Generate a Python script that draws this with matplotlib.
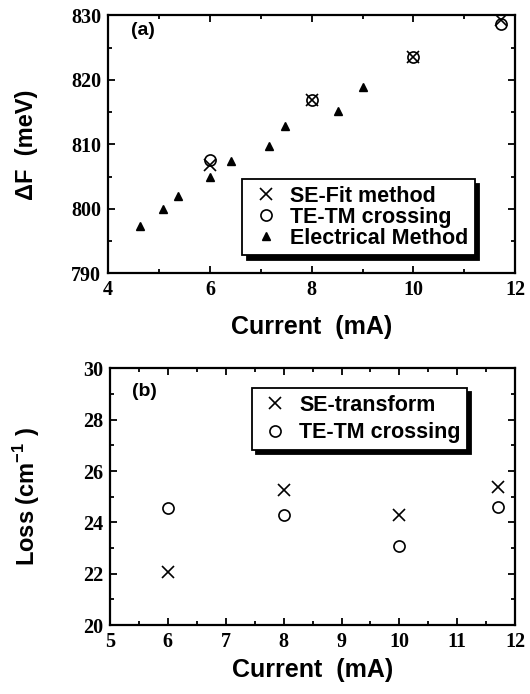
import matplotlib
matplotlib.use('Agg')
import matplotlib.pyplot as plt
from matplotlib.ticker import MultipleLocator

# Panel (a) data
elec_current = [4.62, 5.07, 5.38, 6.0, 6.42, 7.17, 7.47, 8.52, 9.0]
elec_dF = [797.3, 800.0, 802.0, 804.9, 807.4, 809.8, 812.9, 815.2, 818.9]
sefit_current = [6.0, 8.0, 10.0, 11.72]
sefit_dF = [806.8, 816.8, 823.5, 829.2]
tetm_current_a = [6.0, 8.0, 10.0, 11.72]
tetm_dF = [807.6, 816.8, 823.5, 828.6]

# Panel (b) data
loss_current = [6.0, 8.0, 10.0, 11.7]
se_loss = [22.05, 25.27, 24.27, 25.39]
tetm_loss = [24.58, 24.27, 23.08, 24.6]

sans = 'Liberation Sans'
serif = 'Liberation Serif'
plt.rcParams['mathtext.fontset'] = 'custom'
plt.rcParams['mathtext.bf'] = 'Liberation Sans:bold'
plt.rcParams['mathtext.rm'] = 'Liberation Sans:bold'

fig = plt.figure(figsize=(5.3, 6.94), dpi=100)
ax1 = fig.add_axes([0.204, 0.606, 0.768, 0.372])
ax2 = fig.add_axes([0.2075, 0.0994, 0.7645, 0.3697])

shadow = {'color': 'black', 'alpha': 1.0, 'ox': 3, 'oy': -3}
leg_font = {'family': sans, 'weight': 'bold', 'size': 15.5}


def style_axes(ax):
    ax.tick_params(which='both', direction='in', top=True, right=True, width=1.3)
    ax.tick_params(which='major', length=5, pad=5)
    ax.tick_params(which='minor', length=3)
    for s in ax.spines.values():
        s.set_linewidth(1.6)
    for lab in ax.get_xticklabels() + ax.get_yticklabels():
        lab.set_fontfamily(serif)
        lab.set_fontweight('bold')
        lab.set_fontsize(14.5)


# (a)
ax1.plot(sefit_current, sefit_dF, 'x', color='black', ms=8, mew=1.2, label='SE-Fit method')
ax1.plot(tetm_current_a, tetm_dF, 'o', mfc='none', mec='black', ms=8, mew=1.2, label='TE-TM crossing')
ax1.plot(elec_current, elec_dF, '^', color='black', ms=6, label='Electrical Method')
ax1.set_xlim(4, 12)
ax1.set_ylim(790, 830)
ax1.xaxis.set_major_locator(MultipleLocator(2))
ax1.xaxis.set_minor_locator(MultipleLocator(1))
ax1.yaxis.set_major_locator(MultipleLocator(10))
ax1.yaxis.set_minor_locator(MultipleLocator(5))
style_axes(ax1)
ax1.set_xlabel('Current  (mA)', fontfamily=sans, fontweight='bold', fontsize=18)
ax1.xaxis.set_label_coords(0.5, -0.16)
ax1.set_ylabel('ΔF  (meV)', fontfamily=sans, fontweight='bold', fontsize=17)
ax1.yaxis.set_label_coords(-0.172, 0.5)
ax1.text(0.055, 0.975, '(a)', transform=ax1.transAxes, fontfamily=sans, fontweight='bold',
         fontsize=14, va='top')
leg1 = ax1.legend(loc='lower left', bbox_to_anchor=(0.33, 0.07), borderaxespad=0,
                  fancybox=False, shadow=shadow, handletextpad=0.3, handlelength=1.6,
                  labelspacing=0.0, borderpad=0.3, prop=leg_font)
leg1.get_frame().set_edgecolor('black')
leg1.get_frame().set_linewidth(1.3)

# (b)
ax2.plot(loss_current, se_loss, 'x', color='black', ms=8, mew=1.2, label='SE-transform')
ax2.plot(loss_current, tetm_loss, 'o', mfc='none', mec='black', ms=8, mew=1.2, label='TE-TM crossing')
ax2.set_xlim(5, 12)
ax2.set_ylim(20, 30)
ax2.xaxis.set_major_locator(MultipleLocator(1))
ax2.xaxis.set_minor_locator(MultipleLocator(0.5))
ax2.yaxis.set_major_locator(MultipleLocator(2))
ax2.yaxis.set_minor_locator(MultipleLocator(1))
style_axes(ax2)
ax2.set_xlabel('Current  (mA)', fontfamily=sans, fontweight='bold', fontsize=18)
ax2.xaxis.set_label_coords(0.5, -0.13)
ax2.set_ylabel('Loss (cm$^{-1}$ )', fontfamily=sans, fontweight='bold', fontsize=17)
ax2.yaxis.set_label_coords(-0.168, 0.5)
ax2.text(0.055, 0.945, '(b)', transform=ax2.transAxes, fontfamily=sans, fontweight='bold',
         fontsize=14, va='top')
leg2 = ax2.legend(loc='upper left', bbox_to_anchor=(0.35, 0.923), borderaxespad=0,
                  fancybox=False, shadow=shadow, handletextpad=0.3, handlelength=1.6,
                  labelspacing=0.3, borderpad=0.3, prop=leg_font)
leg2.get_frame().set_edgecolor('black')
leg2.get_frame().set_linewidth(1.3)

fig.savefig('out.png', dpi=100)
